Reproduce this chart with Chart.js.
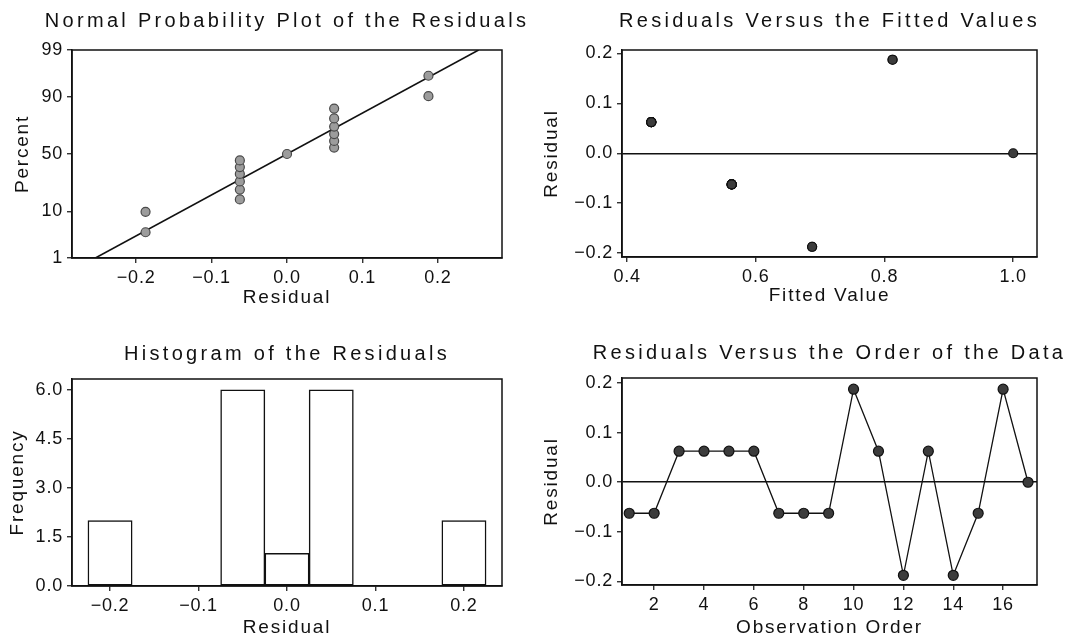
<!DOCTYPE html>
<html>
<head>
<meta charset="utf-8">
<script src="https://cdn.jsdelivr.net/npm/chart.js@4/dist/chart.umd.min.js"></script>
<style>
html,body{margin:0;padding:0;background:#fff;width:1067px;height:637px;overflow:hidden;position:relative}
canvas{position:absolute;display:block}
</style>
</head>
<body>
<canvas id="c1" width="530" height="310" style="left:0;top:0"></canvas>
<canvas id="c2" width="537" height="310" style="left:530px;top:0"></canvas>
<canvas id="c3" width="530" height="327" style="left:0;top:310px"></canvas>
<canvas id="c4" width="537" height="327" style="left:530px;top:310px"></canvas>
<script>
// ---------------- data ----------------
const observationOrder = [1,2,3,4,5,6,7,8,9,10,11,12,13,14,15,16,17];
const residualsByOrder = [-0.0625,-0.0625,0.0625,0.0625,0.0625,0.0625,-0.0625,-0.0625,-0.0625,0.1875,0.0625,-0.1875,0.0625,-0.1875,-0.0625,0.1875,0.0];
const fittedValues = [0.5625,0.5625,0.4375,0.4375,0.4375,0.4375,0.5625,0.5625,0.5625,0.8125,0.4375,0.6875,0.4375,0.6875,0.5625,0.8125,1.0];
const sortedResiduals = [-0.1875,-0.1875,-0.0625,-0.0625,-0.0625,-0.0625,-0.0625,-0.0625,0.0,0.0625,0.0625,0.0625,0.0625,0.0625,0.0625,0.1875,0.1875];
const normalPercents = [4.0,9.8,15.5,21.3,27.0,32.8,38.5,44.3,50.0,55.7,61.5,67.2,73.0,78.7,84.5,90.2,96.0];
const fitLineResiduals = [-0.254, 0.254];
const fitLinePercents = [1, 99];
const histBinCenters = [-0.2,-0.15,-0.1,-0.05,0.0,0.05,0.1,0.15,0.2];
const histFrequencies = [2,0,0,6,1,6,0,0,2];
const percentTicks = [1,10,50,90,99];
const residualTicks = [-0.2,-0.1,0.0,0.1,0.2];
const fittedTicks = [0.4,0.6,0.8,1.0];
const frequencyTicks = [0,1.5,3.0,4.5,6.0];
const orderTicks = [2,4,6,8,10,12,14,16];
const panelTitles = ['Normal Probability Plot of the Residuals','Residuals Versus the Fitted Values','Histogram of the Residuals','Residuals Versus the Order of the Data'];

// ---------------- text spacing (style) ----------------
const SPACING = {20:'3.3px', 19:'1.8px', 18:'0.8px'};
(function(){
  const P = CanvasRenderingContext2D.prototype;
  const fill = P.fillText, measure = P.measureText;
  function apply(ctx){
    if (!('letterSpacing' in ctx)) return;
    const m = /(\d+(?:\.\d+)?)px/.exec(ctx.font);
    ctx.letterSpacing = (m && SPACING[Math.round(+m[1])]) || '0px';
  }
  // text is never squeezed to a max width
  P.fillText = function(t, x, y){ apply(this); return fill.call(this, t, x, y); };
  P.measureText = function(){ apply(this); return measure.apply(this, arguments); };
})();

// ---------------- normal probability scale ----------------
function normInv(p){
  const a=[-3.969683028665376e+01,2.209460984245205e+02,-2.759285104469687e+02,1.383577518672690e+02,-3.066479806614716e+01,2.506628277459239e+00];
  const b=[-5.447609879822406e+01,1.615858368580409e+02,-1.556989798598866e+02,6.680131188771972e+01,-1.328068155288572e+01];
  const c=[-7.784894002430293e-03,-3.223964580411365e-01,-2.400758277161838e+00,-2.549732539343734e+00,4.374664141464968e+00,2.938163982698783e+00];
  const d=[7.784695709041462e-03,3.224671290700398e-01,2.445134137142996e+00,3.754408661907416e+00];
  const pl=0.02425, ph=1-pl; let q, r;
  if (p < pl){ q=Math.sqrt(-2*Math.log(p)); return (((((c[0]*q+c[1])*q+c[2])*q+c[3])*q+c[4])*q+c[5])/((((d[0]*q+d[1])*q+d[2])*q+d[3])*q+1); }
  if (p <= ph){ q=p-0.5; r=q*q; return (((((a[0]*r+a[1])*r+a[2])*r+a[3])*r+a[4])*r+a[5])*q/(((((b[0]*r+b[1])*r+b[2])*r+b[3])*r+b[4])*r+1); }
  q=Math.sqrt(-2*Math.log(1-p)); return -(((((c[0]*q+c[1])*q+c[2])*q+c[3])*q+c[4])*q+c[5])/((((d[0]*q+d[1])*q+d[2])*q+d[3])*q+1);
}
function normCdf(z){
  const t=1/(1+0.2316419*Math.abs(z));
  const y=t*(0.319381530+t*(-0.356563782+t*(1.781477937+t*(-1.821255978+t*1.330274429))));
  const v=1-Math.exp(-z*z/2)/Math.sqrt(2*Math.PI)*y;
  return z>=0?v:1-v;
}
class ProbabilityScale extends Chart.LinearScale {
  configure(){
    super.configure();
    this._zMin = normInv(this.min/100);
    this._zRange = normInv(this.max/100) - this._zMin;
  }
  getPixelForValue(value){
    if (value === null || value === undefined) return NaN;
    return this.getPixelForDecimal((normInv(value/100) - this._zMin)/this._zRange);
  }
  getValueForPixel(pixel){
    return normCdf(this._zMin + this.getDecimalForPixel(pixel)*this._zRange)*100;
  }
}
ProbabilityScale.id = 'probability';
Chart.register(ProbabilityScale);

// ---------------- common styling ----------------
Chart.defaults.font.family = '"Liberation Sans", Arial, sans-serif';
Chart.defaults.color = '#111';
const INK = '#111';
const fmt1 = v => (v < 0 ? '\u2212' : '') + Math.abs(v).toFixed(1);
const fmtInt = v => String(Math.round(v));

const framePlugin = {
  id: 'frame',
  beforeDatasetsDraw(chart){
    const {ctx, chartArea: a} = chart;
    ctx.save();
    ctx.strokeStyle = INK; ctx.lineWidth = 1.5;
    ctx.strokeRect(a.left, a.top, a.right - a.left, a.bottom - a.top);
    ctx.restore();
  }
};

function axis(cfg){
  const isY = cfg.pos === 'left';
  return {
    type: cfg.type || 'linear',
    position: cfg.pos,
    min: cfg.min, max: cfg.max,
    offset: false,
    afterFit: s => { if (isY) s.width = cfg.size; else s.height = cfg.size; },
    afterBuildTicks: s => { s.ticks = cfg.ticks.map(v => ({value: v})); },
    ticks: {autoSkip: false, maxRotation: 0, minRotation: 0, padding: 4, color: INK,
            font: {size: 18, lineHeight: 1.2}, callback: cfg.fmt},
    grid: {offset: false, drawOnChartArea: !!cfg.zeroLine, drawTicks: true, tickLength: 5,
           tickColor: INK, tickWidth: 1.2, lineWidth: 1.5,
           color: c => (cfg.zeroLine && c.tick && Math.abs(c.tick.value) < 1e-9) ? INK : 'rgba(0,0,0,0)'},
    border: {display: true, color: INK, width: 1.5},
    title: {display: true, text: cfg.title, color: INK, font: {size: 19, lineHeight: 1.0},
            padding: isY ? {top: cfg.titlePad, bottom: 0} : {top: 0, bottom: cfg.titlePad}}
  };
}

function baseOptions(p){
  return {
    responsive: false, animation: false, events: [],
    layout: {padding: {left: 0, top: 0, right: p.padRight, bottom: 0}},
    plugins: {
      legend: {display: false}, tooltip: {enabled: false},
      title: {display: true, text: p.title, fullSize: false, color: INK,
              font: {size: 20, weight: 'normal', lineHeight: 1.2},
              padding: {top: p.titleTop, bottom: p.titleBottom}}
    },
    scales: {x: axis(p.x), y: axis(p.y)}
  };
}

// ---------------- panel 1: normal probability plot ----------------
new Chart(document.getElementById('c1'), {
  type: 'scatter',
  data: {datasets: [
    {data: sortedResiduals.map((r, i) => ({x: r, y: normalPercents[i]})),
     pointRadius: 4.5, pointBackgroundColor: '#9c9c9c', pointBorderColor: '#4a4a4a', pointBorderWidth: 1.2, order: 0},
    {data: fitLineResiduals.map((r, i) => ({x: r, y: fitLinePercents[i]})),
     showLine: true, pointRadius: 0, borderColor: INK, borderWidth: 1.6, order: 1}
  ]},
  options: baseOptions({
    title: panelTitles[0], padRight: 28, titleTop: 9, titleBottom: 17,
    x: {pos: 'bottom', min: -0.285, max: 0.285, size: 52, ticks: residualTicks, fmt: fmt1, title: 'Residual', titlePad: 2.5},
    y: {pos: 'left', type: 'probability', min: 1, max: 99, size: 72, ticks: percentTicks, fmt: fmtInt, title: 'Percent', titlePad: 13.5}
  }),
  plugins: [framePlugin]
});

// ---------------- panel 2: residuals vs fitted ----------------
new Chart(document.getElementById('c2'), {
  type: 'scatter',
  data: {datasets: [
    {data: fittedValues.map((f, i) => ({x: f, y: residualsByOrder[i]})),
     pointRadius: 4.5, pointBackgroundColor: '#3c3c3c', pointBorderColor: '#111', pointBorderWidth: 1.2}
  ]},
  options: baseOptions({
    title: panelTitles[1], padRight: 30, titleTop: 9, titleBottom: 17,
    x: {pos: 'bottom', min: 0.392, max: 1.037, size: 53, ticks: fittedTicks, fmt: fmt1, title: 'Fitted Value', titlePad: 4.5},
    y: {pos: 'left', min: -0.208, max: 0.207, size: 92, ticks: residualTicks, fmt: fmt1, title: 'Residual', titlePad: 12.5, zeroLine: true}
  }),
  plugins: [framePlugin]
});

// ---------------- panel 3: histogram ----------------
new Chart(document.getElementById('c3'), {
  type: 'bar',
  data: {datasets: [
    {data: histBinCenters.map((c, i) => ({x: c, y: histFrequencies[i]})),
     backgroundColor: '#ffffff', borderColor: INK, borderWidth: 1.5, borderSkipped: false,
     barPercentage: 1.0, categoryPercentage: 1.0}
  ]},
  options: baseOptions({
    title: panelTitles[2], padRight: 28, titleTop: 32, titleBottom: 13,
    x: {pos: 'bottom', min: -0.243, max: 0.243, size: 51, ticks: residualTicks, fmt: fmt1, title: 'Residual', titlePad: 0},
    y: {pos: 'left', min: 0, max: 6.33, size: 72, ticks: frequencyTicks, fmt: fmt1, title: 'Frequency', titlePad: 8.5}
  }),
  plugins: [framePlugin]
});

// ---------------- panel 4: residuals vs order ----------------
new Chart(document.getElementById('c4'), {
  type: 'scatter',
  data: {datasets: [
    {data: observationOrder.map((o, i) => ({x: o, y: residualsByOrder[i]})),
     showLine: true, borderColor: INK, borderWidth: 1.3,
     pointRadius: 5, pointBackgroundColor: '#3c3c3c', pointBorderColor: '#111', pointBorderWidth: 1.2}
  ]},
  options: baseOptions({
    title: panelTitles[3], padRight: 30, titleTop: 31, titleBottom: 13,
    x: {pos: 'bottom', min: 0.71, max: 17.36, size: 52, ticks: orderTicks, fmt: fmtInt, title: 'Observation Order', titlePad: 0},
    y: {pos: 'left', min: -0.207, max: 0.21, size: 92, ticks: residualTicks, fmt: fmt1, title: 'Residual', titlePad: 12.5, zeroLine: true}
  }),
  plugins: [framePlugin]
});
</script>
</body>
</html>
